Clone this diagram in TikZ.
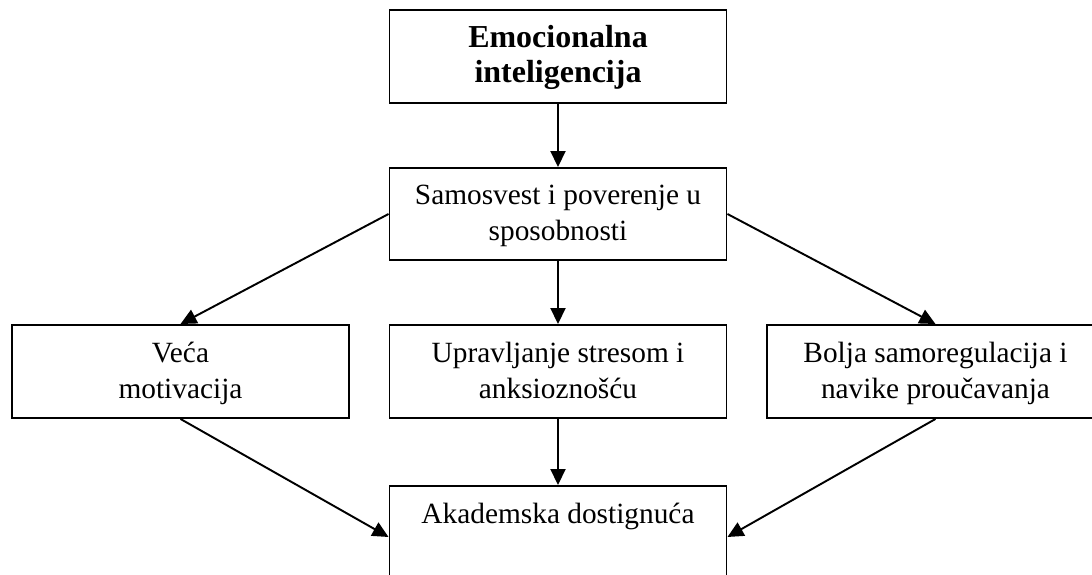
\documentclass[tikz,border=0pt]{standalone}
\usepackage{fontspec}
\setmainfont{Liberation Serif}
\usetikzlibrary{arrows.meta}

\begin{document}
\begin{tikzpicture}[
	box/.style={draw, line width=1.1pt, minimum width=6.74cm, minimum height=1.86cm,
		inner sep=0pt, align=center, text height=35.3pt, text depth=5pt,
		font=\fontsize{16.7}{20.3}\selectfont},
	link/.style={line width=1.1pt, -{Triangle[length=0.32cm, width=0.3cm]}}
]

	\useasboundingbox (0,0) rectangle (21.84,-11.5);

	% Columns and rows
	\def\leftcol{3.61}
	\def\midcol{11.16}
	\def\rightcol{18.71}
	\def\rowmid{-7.43}

	% Top
	\node[box, font=\fontsize{18.2}{20}\bfseries, text height=35pt] (emo) at (\midcol, -1.13) {Emocionalna\\ inteligencija};
	\node[box, minimum height=1.84cm] (samo) at (\midcol, -4.28) {Samosvest i poverenje u\\ sposobnosti};

	% Middle row
	\node[box] (veca) at (\leftcol, \rowmid) {Veća\\ motivacija};
	\node[box] (upr) at (\midcol, \rowmid) {Upravljanje stresom i\\ anksioznošću};
	\node[box] (bolja) at (\rightcol, \rowmid) {Bolja samoregulacija i\\ navike proučavanja};

	% Bottom
	\node[box, minimum height=2.04cm, text height=15pt, text depth=30pt] (akad) at (\midcol, -10.74) {Akademska dostignuća};

	% Arrows
	\draw[link] (emo) -- (samo);
	\draw[link] (samo.west) -- (veca.north);
	\draw[link] (samo) -- (upr);
	\draw[link] (samo.east) -- (bolja.north);
	\draw[link] (veca.south) -- (akad.west);
	\draw[link] (upr) -- (akad);
	\draw[link] (bolja.south) -- (akad.east);

\end{tikzpicture}
\end{document}
